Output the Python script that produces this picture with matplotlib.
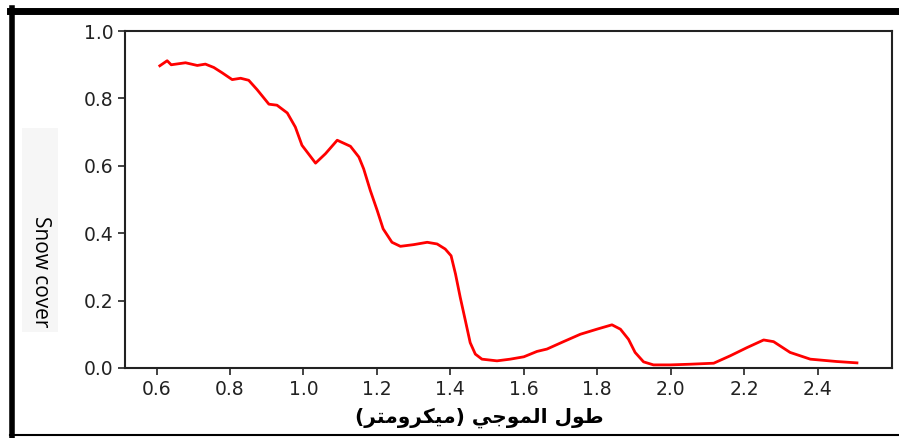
import numpy as np
import matplotlib
matplotlib.use('Agg')
import matplotlib.pyplot as plt
from matplotlib.lines import Line2D
from matplotlib.patches import Rectangle

# wavelength (micrometre) and snow reflectance
wavelength = [0.609, 0.629, 0.640, 0.679, 0.711, 0.733, 0.756, 0.779, 0.806, 0.829,
              0.851, 0.874, 0.906, 0.928, 0.956, 0.978, 0.996, 1.010, 1.033, 1.060,
              1.092, 1.128, 1.151, 1.164, 1.182, 1.201, 1.217, 1.241, 1.264, 1.300,
              1.337, 1.364, 1.386, 1.402, 1.414, 1.427, 1.441, 1.454, 1.468, 1.486,
              1.527, 1.563, 1.600, 1.636, 1.663, 1.708, 1.754, 1.799, 1.840, 1.863,
              1.885, 1.903, 1.926, 1.953, 1.999, 2.053, 2.117, 2.162, 2.207, 2.253,
              2.280, 2.325, 2.380, 2.452, 2.507]
snow = [0.897, 0.912, 0.900, 0.906, 0.898, 0.902, 0.892, 0.876, 0.856, 0.860,
        0.854, 0.826, 0.783, 0.780, 0.757, 0.715, 0.661, 0.641, 0.608, 0.636,
        0.676, 0.658, 0.626, 0.591, 0.527, 0.467, 0.413, 0.373, 0.361, 0.366,
        0.373, 0.368, 0.353, 0.333, 0.279, 0.209, 0.140, 0.075, 0.041, 0.026,
        0.021, 0.026, 0.033, 0.049, 0.056, 0.078, 0.100, 0.115, 0.128, 0.115,
        0.085, 0.046, 0.018, 0.009, 0.009, 0.011, 0.014, 0.036, 0.060, 0.083,
        0.078, 0.046, 0.026, 0.019, 0.015]

xticks = [0.6, 0.8, 1.0, 1.2, 1.4, 1.6, 1.8, 2.0, 2.2, 2.4]
yticks = [0.0, 0.2, 0.4, 0.6, 0.8, 1.0]

# Arabic label "طول الموجي (ميكرومتر)" in visual order with presentation forms
xlabel = ('(\uFEAE\uFE98\uFEE3\uFEED\uFEAE\uFEDC\uFEF4\uFEE3) '
          '\uFEF2\uFE9F\uFEEE\uFEE4\uFEDF\uFE8D '
          '\uFEDD\uFEEE\uFEC3')

fig = plt.figure(figsize=(8.99, 4.38), dpi=100)
ax = fig.add_axes([0.139, 0.160, 0.853, 0.769])

ax.plot(wavelength, snow, color='#ff0000', linewidth=2.0)
ax.set_ylim(0, 1.0)
ax.margins(x=0.05)
ax.set_xticks(xticks)
ax.set_yticks(yticks)
ax.set_xticklabels(['{:.1f}'.format(v) for v in xticks])
ax.set_yticklabels(['{:.1f}'.format(v) for v in yticks])
ax.tick_params(labelsize=13.5, width=1.2, length=5, colors='#222222')
for s in ax.spines.values():
    s.set_linewidth(1.5)
    s.set_color('#222222')
ax.set_xlabel(xlabel, fontsize=14.5, fontweight='bold', family=['DejaVu Sans'])
ax.xaxis.set_label_coords(0.462, -0.118)

# light box behind the y label
fig.add_artist(Rectangle((22 / 899, 1 - 332 / 438), 36 / 899, 204 / 438,
                         transform=fig.transFigure, facecolor='#f6f6f6', edgecolor='none'))
fig.text(40 / 899, 1 - 272 / 438, 'Snow cover', rotation=270, ha='center', va='center',
         fontsize=15, family=['Open Sans', 'DejaVu Sans'])

# black frame around the figure (top, left, bottom)
fig.add_artist(Line2D([0.011, 1.0], [1 - 11 / 438, 1 - 11 / 438], transform=fig.transFigure,
                      color='black', linewidth=5))
fig.add_artist(Line2D([12 / 899, 12 / 899], [1 - 8 / 438, 1 - 436 / 438], transform=fig.transFigure,
                      color='black', linewidth=4))
fig.add_artist(Line2D([0.011, 1.0], [1 - 435 / 438, 1 - 435 / 438], transform=fig.transFigure,
                      color='black', linewidth=1.5))

fig.savefig('out.png', dpi=100)
